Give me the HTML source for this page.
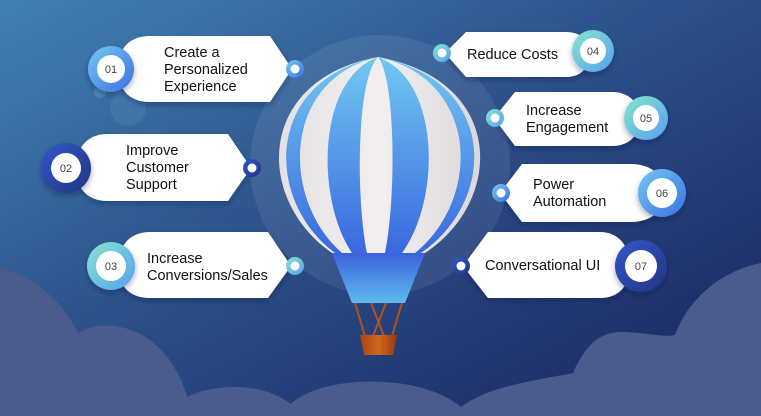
<!DOCTYPE html>
<html><head><meta charset="utf-8"><style>
html,body{margin:0;padding:0;width:761px;height:416px;overflow:hidden}
svg{display:block}
text{font-family:"Liberation Sans",sans-serif;font-size:14.5px;fill:#111}
.n{font-size:11px;fill:#444;text-anchor:middle}
</style></head><body>
<svg width="761" height="416" viewBox="0 0 761 416" xmlns="http://www.w3.org/2000/svg">
<defs>
<linearGradient id="bg" x1="0" y1="0" x2="1" y2="1"><stop offset="0" stop-color="#4281b4"/><stop offset="0.5" stop-color="#2a4c86"/><stop offset="1" stop-color="#1a235e"/></linearGradient>
<linearGradient id="blu" x1="0" y1="0" x2="0" y2="1"><stop offset="0" stop-color="#72c8f2"/><stop offset="1" stop-color="#3a68df"/></linearGradient>
<linearGradient id="wht" x1="0" y1="0" x2="1" y2="0"><stop offset="0" stop-color="#e4e1e2"/><stop offset="0.5" stop-color="#f1eff0"/><stop offset="1" stop-color="#dcd8d9"/></linearGradient>
<linearGradient id="skirt" x1="0" y1="0" x2="0" y2="1"><stop offset="0" stop-color="#3a62dc"/><stop offset="1" stop-color="#5fbaf2"/></linearGradient>
<linearGradient id="gb" x1="0" y1="0" x2="1" y2="1"><stop offset="0" stop-color="#74c9f3"/><stop offset="1" stop-color="#3a70e0"/></linearGradient>
<linearGradient id="gd" x1="0" y1="0" x2="1" y2="1"><stop offset="0" stop-color="#3456cc"/><stop offset="1" stop-color="#213580"/></linearGradient>
<linearGradient id="gt" x1="0" y1="0" x2="1" y2="1"><stop offset="0" stop-color="#84e6cf"/><stop offset="1" stop-color="#5a9ef0"/></linearGradient>
<linearGradient id="bk" x1="0" y1="0" x2="1" y2="0"><stop offset="0" stop-color="#a8440f"/><stop offset="0.5" stop-color="#d2661e"/><stop offset="1" stop-color="#983a0c"/></linearGradient>
<filter id="sh" x="-20%" y="-20%" width="140%" height="150%"><feDropShadow dx="0" dy="3" stdDeviation="3" flood-color="#0a1540" flood-opacity="0.35"/></filter>
</defs>
<rect width="761" height="416" fill="url(#bg)"/>
<circle cx="380" cy="165" r="130" fill="#ffffff" opacity="0.08"/>
<circle cx="100" cy="92" r="6" fill="#7fc8d8" opacity="0.25"/>
<circle cx="128" cy="108" r="18" fill="#7fc8d8" opacity="0.12"/>
<path d="M0,267 C40,280 65,305 78,333 C95,322 125,322 150,340 C170,355 182,378 187,397 C210,385 260,380 291,404 C320,375 420,372 461,407 C490,385 540,380 573,373 C585,345 600,332 621,332 C645,332 665,338 675,335 C690,295 725,270 761,263 L761,416 L0,416 Z" fill="#4a5b8c"/>
<!-- balloon -->
<path d="M378,57 C255,80 255,200 332,253 L425,253 C505,200 505,80 378,57Z" fill="url(#wht)"/>
<path d="M378,57 C264,80 264,200 335,253 L342,253 C281,200 281,80 378,57Z" fill="url(#blu)"/>
<path d="M378,57 C316,80 316,200 352,253 L367,253 C356,200 356,80 378,57Z" fill="url(#blu)"/>
<path d="M378,57 C396,80 396,200 385,253 L402,253 C441,200 441,80 378,57Z" fill="url(#blu)"/>
<path d="M378,57 C481,80 481,200 415,253 L421,253 C498,200 498,80 378,57Z" fill="url(#blu)"/>
<path d="M332,253 L425,253 L405,303 L352,303Z" fill="url(#skirt)"/>
<g stroke="#b5501a" stroke-width="2"><line x1="355" y1="303" x2="365" y2="336"/><line x1="371" y1="303" x2="384" y2="336"/><line x1="386" y1="303" x2="373" y2="336"/><line x1="402" y1="303" x2="392" y2="336"/></g>
<path d="M360,335 L397,335 L393,355 L364,355Z" fill="url(#bk)"/>
<g filter="url(#sh)" fill="#fff">
<path d="M150,36 L270,36 L292,69 L270,102 L150,102 C128,102 118,88 118,69 C118,50 128,36 150,36Z"/>
<path d="M108,134 L228,134 L251,168 L228,201 L108,201 C86,201 76,187 76,168 C76,149 86,134 108,134Z"/>
<path d="M150,232 L268,232 L291,266 L268,298 L150,298 C128,298 118,284 118,266 C118,248 128,232 150,232Z"/>
<path d="M566,32 L466,32 L445,53 L466,77 L566,77 C582,77 590,66 590,54 C590,42 582,32 566,32Z"/>
<path d="M612,92 L515,92 L494,118 L515,146 L612,146 C630,146 640,134 640,119 C640,104 630,92 612,92Z"/>
<path d="M630,164 L522,164 L500,193 L522,222 L630,222 C652,222 665,210 665,193 C665,176 652,164 630,164Z"/>
<path d="M600,232 L488,232 L463,266 L488,298 L600,298 C620,298 630,284 630,266 C630,248 620,232 600,232Z"/>
</g>
<g filter="url(#sh)">
<circle cx="111" cy="69" r="23" fill="url(#gb)"/>
<circle cx="66" cy="168" r="25" fill="url(#gd)"/>
<circle cx="111" cy="266" r="24" fill="url(#gt)"/>
<circle cx="593" cy="51" r="21" fill="url(#gt)"/>
<circle cx="646" cy="118" r="22" fill="url(#gt)"/>
<circle cx="662" cy="193" r="24" fill="url(#gb)"/>
<circle cx="641" cy="266" r="26" fill="url(#gd)"/>
</g>
<g fill="#fff">
<circle cx="111" cy="69" r="14"/><circle cx="66" cy="168" r="15"/><circle cx="111" cy="266" r="15"/>
<circle cx="593" cy="51" r="13"/><circle cx="646" cy="118" r="13"/><circle cx="662" cy="193" r="15"/><circle cx="641" cy="266" r="16"/>
</g>
<text class="n" x="111" y="73">01</text><text class="n" x="66" y="172">02</text><text class="n" x="111" y="270">03</text>
<text class="n" x="593" y="55">04</text><text class="n" x="646" y="122">05</text><text class="n" x="662" y="197">06</text><text class="n" x="641" y="270">07</text>
<circle cx="295" cy="69" r="9" fill="url(#gb)"/><circle cx="295" cy="69" r="4.5" fill="#fff"/>
<circle cx="252" cy="168" r="9" fill="url(#gd)"/><circle cx="252" cy="168" r="4.5" fill="#fff"/>
<circle cx="295" cy="266" r="9" fill="url(#gt)"/><circle cx="295" cy="266" r="4.5" fill="#fff"/>
<circle cx="442" cy="53" r="9" fill="url(#gt)"/><circle cx="442" cy="53" r="4.5" fill="#fff"/>
<circle cx="495" cy="118" r="9" fill="url(#gt)"/><circle cx="495" cy="118" r="4.5" fill="#fff"/>
<circle cx="501" cy="193" r="9" fill="url(#gb)"/><circle cx="501" cy="193" r="4.5" fill="#fff"/>
<circle cx="461" cy="266" r="9" fill="url(#gd)"/><circle cx="461" cy="266" r="4.5" fill="#fff"/>
<text x="164" y="57">Create a</text><text x="164" y="74">Personalized</text><text x="164" y="91">Experience</text>
<text x="126" y="155">Improve</text><text x="126" y="172">Customer</text><text x="126" y="189">Support</text>
<text x="147" y="263">Increase</text><text x="147" y="280">Conversions/Sales</text>
<text x="467" y="59">Reduce Costs</text>
<text x="526" y="115">Increase</text><text x="526" y="132">Engagement</text>
<text x="533" y="189">Power</text><text x="533" y="206">Automation</text>
<text x="485" y="270">Conversational UI</text>
</svg>
</body></html>
